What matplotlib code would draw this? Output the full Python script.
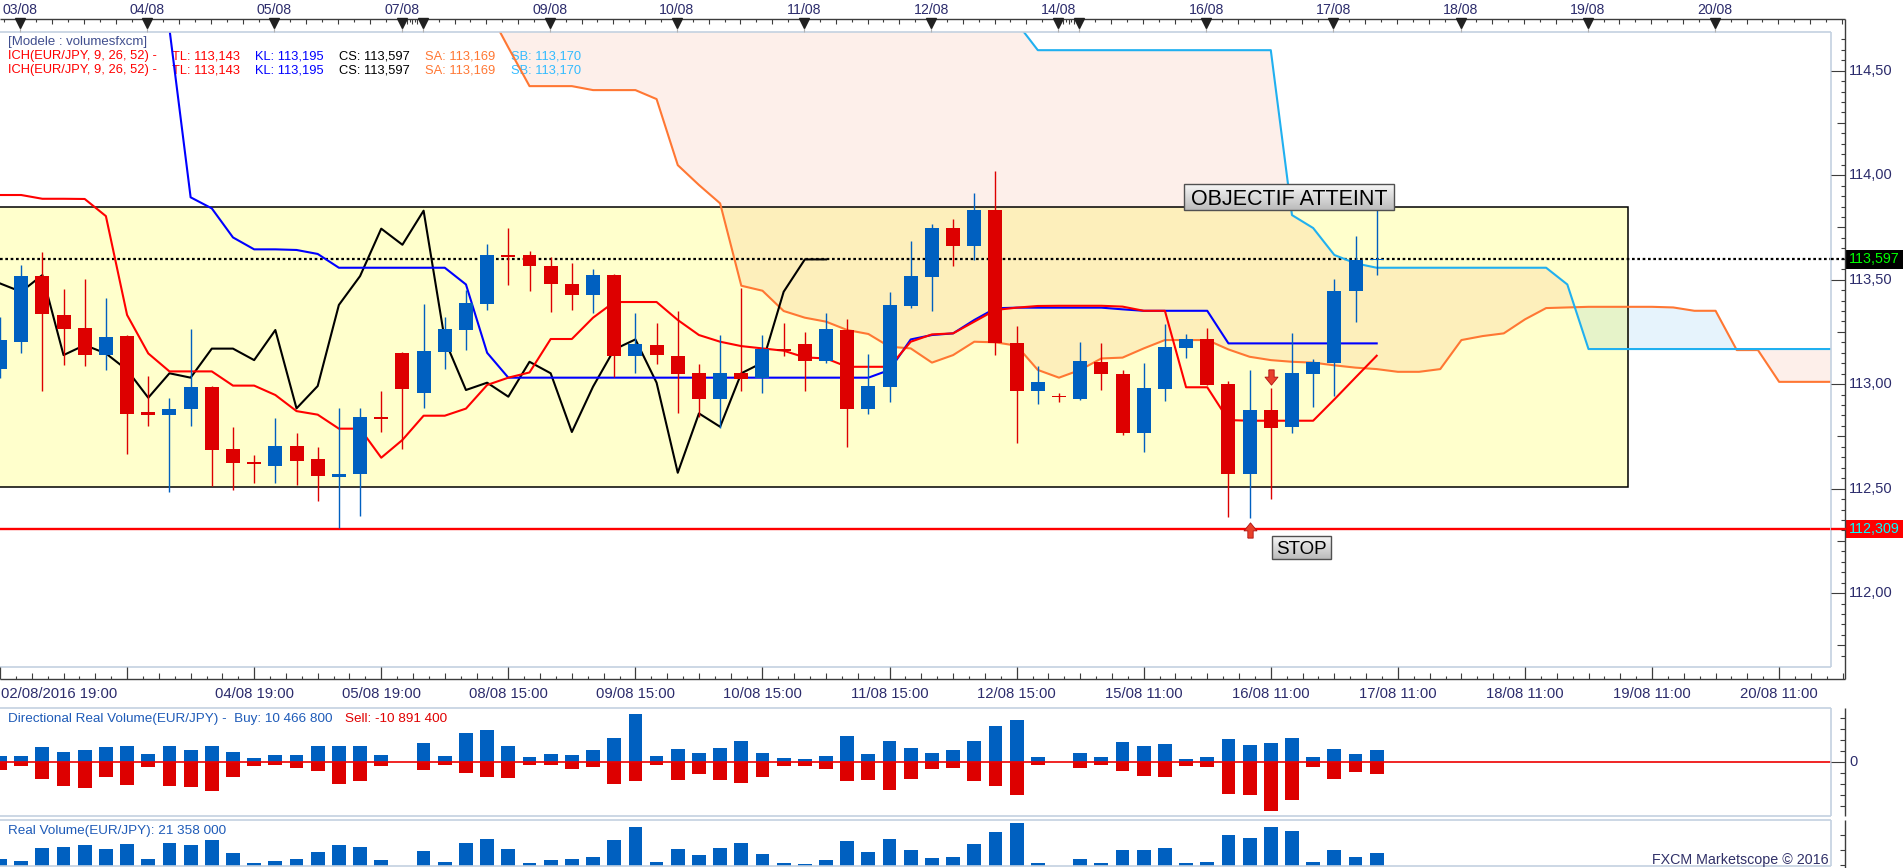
import numpy as np
import matplotlib
matplotlib.use("Agg")
import matplotlib.pyplot as plt
from matplotlib.patches import Rectangle
from matplotlib.path import Path
from matplotlib.colors import LinearSegmentedColormap
import matplotlib.transforms as mtransforms

plt.rcParams['font.family'] = ['Liberation Sans', 'DejaVu Sans']
nan = float('nan')

# ---------------------------------------------------------------- data
# EUR/JPY H4 candles
opens = [113.071, 113.203, 113.517, 113.331, 113.268, 113.141, 113.230, 112.865, 112.854, 112.883,
         112.986, 112.690, 112.627, 112.610, 112.704, 112.642, 112.557, 112.568, 112.843, 113.149,
         112.959, 113.155, 113.261, 113.385, 113.618, 113.618, 113.565, 113.479, 113.428, 113.522,
         113.136, 113.187, 113.135, 113.053, 112.930, 113.053, 113.029, 113.166, 113.192, 113.112,
         113.259, 112.883, 112.988, 113.375, 113.514, 113.747, 113.662, 113.833, 113.197, 112.969,
         112.943, 112.930, 113.106, 113.048, 112.768, 112.978, 113.174, 113.216, 113.000, 112.572,
         112.876, 112.796, 113.050, 113.103, 113.447, 113.594]
highs = [113.323, 113.570, 113.632, 113.455, 113.503, 113.412, 113.235, 113.039, 112.934, 113.264,
         112.990, 112.795, 112.661, 112.840, 112.766, 112.699, 112.887, 112.887, 112.967, 113.154,
         113.383, 113.321, 113.450, 113.670, 113.747, 113.637, 113.608, 113.579, 113.551, 113.527,
         113.340, 113.292, 113.350, 113.096, 113.235, 113.461, 113.235, 113.294, 113.249, 113.340,
         113.312, 113.144, 113.441, 113.685, 113.766, 113.790, 113.914, 114.020, 113.278, 113.087,
         112.956, 113.203, 113.197, 113.068, 113.101, 113.288, 113.240, 113.268, 113.015, 113.068,
         112.981, 113.245, 113.120, 113.503, 113.709, 113.840]
lows = [113.028, 113.150, 112.969, 113.093, 113.088, 113.069, 112.664, 112.801, 112.482, 112.801,
        112.514, 112.495, 112.528, 112.528, 112.519, 112.442, 112.310, 112.371, 112.772, 112.688,
        112.887, 113.074, 113.165, 113.356, 113.476, 113.447, 113.347, 113.356, 113.342, 113.032,
        113.055, 113.098, 112.863, 112.844, 112.788, 112.969, 112.959, 113.136, 112.969, 113.103,
        112.701, 112.859, 112.916, 113.366, 113.351, 113.567, 113.595, 113.141, 112.720, 112.906,
        112.913, 112.922, 112.973, 112.755, 112.677, 112.921, 113.127, 112.997, 112.366, 112.361,
        112.452, 112.768, 112.892, 112.945, 113.299, 113.520]
closes = [113.211, 113.517, 113.334, 113.265, 113.141, 113.225, 112.859, 112.854, 112.881, 112.986,
          112.686, 112.624, 112.619, 112.704, 112.634, 112.562, 112.568, 112.843, 112.831, 112.975,
          113.158, 113.264, 113.388, 113.618, 113.610, 113.567, 113.481, 113.428, 113.522, 113.136,
          113.192, 113.141, 113.050, 112.930, 113.053, 113.026, 113.168, 113.158, 113.112, 113.264,
          112.883, 112.991, 113.379, 113.517, 113.747, 113.662, 113.833, 113.195, 112.969, 113.010,
          112.937, 113.111, 113.050, 112.768, 112.981, 113.178, 113.216, 112.997, 112.572, 112.876,
          112.792, 113.053, 113.106, 113.446, 113.594, 113.597]

# Ichimoku (9, 26, 52)
tenkan = [113.905, 113.905, 113.887, 113.887, 113.886, 113.804, 113.331, 113.147, 113.061, 113.061,
          113.061, 112.993, 112.993, 112.948, 112.871, 112.854, 112.787, 112.787, 112.648, 112.733,
          112.849, 112.849, 112.883, 112.996, 113.031, 113.056, 113.216, 113.216, 113.318, 113.393,
          113.393, 113.393, 113.307, 113.235, 113.203, 113.182, 113.171, 113.160, 113.128, 113.123,
          113.083, 113.083, 113.083, 113.203, 113.238, 113.243, 113.299, 113.355, 113.366, 113.374,
          113.375, 113.375, 113.375, 113.371, 113.351, 113.351, 112.985, 112.985, 112.828, 112.825,
          112.825, 112.825, 112.825, 112.927, 113.032, 113.136]
kijun = ([nan] * 8 +
         [114.700, 113.894, 113.841, 113.702, 113.645, 113.645, 113.642, 113.623, 113.557, 113.557,
          113.557, 113.557, 113.557, 113.557, 113.477, 113.150] +
         [113.031] * 18 +
         [113.068, 113.214, 113.235, 113.243, 113.307, 113.363, 113.366, 113.366, 113.366, 113.366,
          113.366, 113.358, 113.351, 113.351, 113.351, 113.351] +
         [113.195] * 8)
chikou = [113.482, 113.442, 113.522, 113.139, 113.187, 113.147, 113.068, 112.935, 113.052, 113.031,
          113.170, 113.170, 113.115, 113.259, 112.884, 112.991, 113.379, 113.517, 113.744, 113.667,
          113.830, 113.211, 112.972, 113.007, 112.940, 113.107, 113.052, 112.771, 112.988, 113.166,
          113.214, 113.007, 112.576, 112.860, 112.796, 113.052, 113.103, 113.442, 113.597, 113.597]
senkou_a = ([nan] * 23 +
            [114.800, 114.611, 114.426, 114.426, 114.426, 114.407, 114.407, 114.407, 114.364, 114.048,
             113.953, 113.865, 113.471, 113.447, 113.350, 113.318, 113.299, 113.259, 113.240, 113.179,
             113.171, 113.103, 113.139, 113.203, 113.200, 113.184, 113.068, 113.031, 113.068, 113.123,
             113.127, 113.171, 113.211, 113.211, 113.211, 113.166, 113.131, 113.115, 113.107, 113.103,
             113.090, 113.079, 113.072, 113.059, 113.059, 113.072, 113.211, 113.230, 113.243, 113.310,
             113.364, 113.367, 113.370, 113.370, 113.370, 113.370, 113.367, 113.351, 113.351, 113.163,
             113.163, 113.011, 113.011, 113.011, 113.011])
senkou_b = ([nan] * 48 + [114.730] + [114.598] * 12 +
            [113.809, 113.747, 113.618, 113.578] + [113.557] * 9 + [113.477] + [113.168] * 13)

# volumes (millions)
buy_volume = [5.7, 5.7, 13.8, 9.3, 11.1, 13.8, 14.7, 7.5, 14.7, 11.1,
              14.7, 9.3, 3.9, 6.6, 6.6, 14.7, 14.7, 14.7, 6.6, 0.0,
              17.4, 5.7, 26.4, 29.1, 14.7, 4.8, 7.5, 6.6, 11.1, 21.9,
              43.5, 5.7, 12.0, 8.4, 12.6, 18.9, 8.4, 3.6, 2.7, 5.4,
              23.4, 7.2, 18.9, 12.6, 8.4, 10.8, 18.9, 32.4, 37.8, 4.5,
              0.0, 8.4, 4.5, 18.0, 14.4, 16.2, 2.7, 4.5, 20.7, 15.3,
              17.1, 21.6, 4.5, 11.7, 7.2, 10.5]
sell_volume = [7.5, 3.9, 15.6, 21.9, 23.7, 13.8, 21.0, 4.8, 21.9, 22.8,
               26.4, 13.8, 3.9, 3.0, 5.7, 8.4, 20.1, 17.4, 3.9, 0.0,
               7.5, 3.0, 10.2, 13.8, 14.7, 3.0, 3.0, 6.6, 4.8, 20.1,
               17.4, 3.0, 16.5, 11.1, 16.2, 18.9, 13.5, 3.6, 3.6, 6.3,
               17.1, 16.2, 25.2, 15.3, 6.3, 5.4, 17.1, 21.6, 29.7, 2.7,
               0.0, 5.4, 2.7, 8.1, 12.6, 13.5, 3.6, 4.5, 28.8, 29.7,
               44.1, 34.2, 4.5, 15.3, 9.0, 10.9]
real_volume = [11.2, 8.0, 28.8, 30.4, 33.6, 27.2, 35.2, 11.2, 36.8, 33.6,
               41.6, 20.8, 4.8, 8.0, 11.2, 22.4, 33.6, 30.4, 9.6, 0.0,
               24.0, 6.4, 36.8, 43.2, 27.2, 4.8, 9.6, 11.2, 14.4, 41.6,
               62.4, 6.4, 27.2, 17.6, 28.3, 36.3, 18.7, 4.3, 2.7, 9.1,
               39.5, 21.9, 42.7, 25.1, 12.3, 13.9, 34.7, 53.9, 68.3, 4.3,
               0.0, 10.7, 4.3, 25.1, 25.1, 28.3, 4.3, 5.9, 49.1, 44.3,
               61.9, 55.5, 5.9, 25.1, 13.9, 21.4]

target_zone = [112.508, 113.846]
target_zone_end = 76.86
current_price = 113.597
stop_price = 112.309
signal_down = (60, 113.036)
signal_up = (59, 112.302)

top_day_pos = [1, 7, 13, 19, 20, 26, 32, 38, 44, 50, 51, 57, 63, 69, 75, 81]
top_day_labels = ['03/08', '04/08', '05/08', '07/08', '', '09/08', '10/08', '11/08', '12/08',
                  '14/08', '', '16/08', '17/08', '18/08', '19/08', '20/08']
bottom_label_pos = [12, 18, 24, 30, 36, 42, 48, 54, 60, 66, 72, 78, 84]
bottom_labels = ['04/08 19:00', '05/08 19:00', '08/08 15:00', '09/08 15:00', '10/08 15:00',
                 '11/08 15:00', '12/08 15:00', '15/08 11:00', '16/08 11:00', '17/08 11:00',
                 '18/08 11:00', '19/08 11:00', '20/08 11:00']
first_label = '02/08/2016 19:00'

# ---------------------------------------------------------------- layout
W, H, DPI = 1903, 868, 100
S = 21.18
PLOT_R, AXIS_X = 1831, 1845
TOP_AX_Y = 19.3
PR_TOP, PR_BOT = 32.0, 666.7
BOT_AX_Y = 678.7
P_TOP, P_BOT = 114.685, 111.648
DV_TOP, DV_BOT = 708.3, 816.0
RV_TOP, RV_BOT = 820.0, 868.0

BLUE, RED = '#0060c0', '#dd0000'
C_TL, C_KL, C_CS, C_SA, C_SB = '#ff0000', '#0000ff', '#000000', '#ff7733', '#20b0f0'
PINK, LBLUE = '#fdefea', '#e6f3fc'
PINK_Y, LBLUE_Y = '#fdefbb', '#e6f3c9'
CHROME, BORDER, TXT = '#3c3c3c', '#c3d1e0', '#2c2c6c'

fig = plt.figure(figsize=(W / DPI, H / DPI), dpi=DPI)
fig.patch.set_facecolor('white')


def fa(x0, y0, x1, y1):
    return fig.add_axes([x0 / W, 1 - y1 / H, (x1 - x0) / W, (y1 - y0) / H])


ax = fa(0, PR_TOP, PLOT_R, PR_BOT)
ax.axis('off')
dax = fa(0, DV_TOP, PLOT_R, DV_BOT)
dax.axis('off')
rax = fa(0, RV_TOP, PLOT_R, RV_BOT)
rax.axis('off')
ov = fig.add_axes([0, 0, 1, 1])
ov.axis('off')
ov.set_autoscale_on(False)
ov.set_xlim(0, W)
ov.set_ylim(H, 0)
ax.set_xlim(0, PLOT_R / S)
ax.set_ylim(P_BOT, P_TOP)

bt = mtransforms.blended_transform_factory(ax.transData, ov.transData)
bp = mtransforms.blended_transform_factory(ov.transData, ax.transData)

idx = np.arange(len(closes))
xs = np.arange(len(senkou_a))
sa = np.array(senkou_a, float)
sb = np.array(senkou_b, float)
sb_fill = np.where(np.isnan(sb), P_TOP + 1.0, sb)
valid = ~np.isnan(sa)

# ---------------------------------------------------------------- cloud + box
zbox = Rectangle((-2, target_zone[0]), target_zone_end + 2, target_zone[1] - target_zone[0],
                 fc='#ffffcc', ec='none', zorder=1.5)
ax.add_patch(zbox)


def cloud(c_bear, c_bull, z, clip=None):
    with np.errstate(invalid='ignore'):
        w1 = valid & (sb_fill >= sa)
        w2 = valid & (sa > sb_fill)
    f1 = ax.fill_between(xs, sa, sb_fill, where=w1, interpolate=True, color=c_bear, lw=0, zorder=z)
    f2 = ax.fill_between(xs, sa, sb_fill, where=w2, interpolate=True, color=c_bull, lw=0, zorder=z)
    if clip is not None:
        f1.set_clip_path(clip)
        f2.set_clip_path(clip)


cloud(PINK, LBLUE, 1)
cloud(PINK_Y, LBLUE_Y, 2, clip=zbox)
ax.add_patch(Rectangle((-2, target_zone[0]), target_zone_end + 2, target_zone[1] - target_zone[0],
                       fill=False, ec='black', lw=1.1, zorder=2.6))

# legend text (under lines)
ax.text(8, 45, '[Modele : volumesfxcm]', transform=ov.transData, fontsize=9.5, color='#404e8e', zorder=2.7)
for yb in (59.3, 73.3):
    for xp, s, c in [(8, 'ICH(EUR/JPY, 9, 26, 52) -', C_TL), (172, 'TL: 113,143', C_TL),
                     (255, 'KL: 113,195', C_KL), (339, 'CS: 113,597', C_CS),
                     (425, 'SA: 113,169', C_SA), (511, 'SB: 113,170', '#33bbff')]:
        ax.text(xp, yb, s, transform=ov.transData, fontsize=9.3, color=c, zorder=2.7)

# ---------------------------------------------------------------- lines
ax.axhline(current_price, color='black', lw=1.6, ls=(0, (1.2, 1.2)), zorder=2.8)
ax.plot(xs, sa, color=C_SA, lw=1.5, zorder=3)
ax.plot(xs, sb, color=C_SB, lw=1.5, zorder=3)
ax.plot(np.arange(len(chikou)), chikou, color=C_CS, lw=1.5, zorder=3.1)
ax.plot(idx, kijun, color=C_KL, lw=1.5, zorder=3.2)
ax.plot(idx, tenkan, color=C_TL, lw=1.5, zorder=3.3)
ax.axhline(stop_price, color='#ff0000', lw=1.7, zorder=3.5)

# ---------------------------------------------------------------- candles
o, h, l, c = (np.array(v, float) for v in (opens, highs, lows, closes))
ccol = np.where(c >= o, BLUE, RED)
ax.vlines(idx, l, h, colors=ccol, lw=1.0, zorder=4)
ax.bar(idx, np.maximum(np.abs(c - o), 0.007), bottom=np.minimum(o, c), width=0.66,
       color=ccol, lw=0, zorder=5)

down_arrow = Path([(-0.35, 1.0), (0.35, 1.0), (0.35, 0.05), (0.85, 0.05), (0.0, -1.0),
                   (-0.85, 0.05), (-0.35, 0.05), (-0.35, 1.0)])
up_arrow = Path([(x, -y) for x, y in down_arrow.vertices])
ax.plot([signal_down[0]], [signal_down[1]], marker=down_arrow, ms=11, color='#e8402a',
        mec='#b01010', mew=0.6, ls='none', zorder=6)
ax.plot([signal_up[0]], [signal_up[1]], marker=up_arrow, ms=11, color='#e8402a',
        mec='#b01010', mew=0.6, ls='none', zorder=6)

grad = LinearSegmentedColormap.from_list('g', ['#f7f7f7', '#bbbbbb'])


def label_box(x0, x1, y0, y1, text, fs):
    ax.imshow(np.linspace(0, 1, 64).reshape(-1, 1), extent=[x0, x1, y0, y1], cmap=grad,
              aspect='auto', origin='upper', zorder=6, interpolation='bilinear')
    ax.add_patch(Rectangle((x0, y0), x1 - x0, y1 - y0, fill=False, ec='#505050', lw=1.0, zorder=6.5))
    ax.text((x0 + x1) / 2, (y0 + y1) / 2, text, ha='center', va='center_baseline', fontsize=fs,
            color='black', zorder=7)


label_box(55.90, 65.82, 113.833, 113.957, 'OBJECTIF ATTEINT', 15.5)
label_box(60.06, 62.84, 112.163, 112.273, 'STOP', 13.5)
ax.set_xlim(0, PLOT_R / S)
ax.set_ylim(P_BOT, P_TOP)

# ---------------------------------------------------------------- volume panels
dax.set_xlim(0, PLOT_R / S)
dax.set_ylim(-48.6, 48.3)
dax.bar(idx, buy_volume, width=0.65, color=BLUE, lw=0)
dax.bar(idx, -np.array(sell_volume), width=0.65, color=RED, lw=0)
dax.axhline(0, color='#ee0000', lw=1.2, zorder=3)
rax.set_xlim(0, PLOT_R / S)
rax.set_ylim(-3.2, 73.6)
rax.bar(idx, real_volume, width=0.65, color=BLUE, lw=0)

ov.text(8, 722, 'Directional Real Volume(EUR/JPY) -  Buy: 10 466 800', fontsize=9.7, color='#1e5bb8',
        va='baseline')
ov.text(344.6, 722, 'Sell: -10 891 400', fontsize=9.7, color='#e00000', va='baseline')
ov.text(8, 834, 'Real Volume(EUR/JPY): 21 358 000', fontsize=9.7, color='#1e5bb8', va='baseline')
ov.text(1829, 860, 'FXCM Marketscope \u00a9 2016', fontsize=10.3, color='#303068', ha='right', va='center')

# ---------------------------------------------------------------- chrome
for t, b in [(PR_TOP, PR_BOT), (DV_TOP, DV_BOT), (RV_TOP, 866.0)]:
    ov.hlines([t, b], 0, PLOT_R, color=BORDER, lw=1.2)
    ov.vlines(PLOT_R, t, b, color=BORDER, lw=1.2)

# top time axis
ov.hlines(TOP_AX_Y, 0, AXIS_X, color=CHROME, lw=1.0)
dp = np.array(top_day_pos, float) - 0.04
xmax_units = AXIS_X / S
tick_list = []
for a, b in zip(dp[:-1], dp[1:]):
    for k in range(1, 8):
        tick_list.append((a + (b - a) * k / 8, k % 2 == 0))
for k in range(1, 8):
    if dp[0] - 0.75 * k >= 0:
        tick_list.append((dp[0] - 0.75 * k, k % 2 == 0))
k = 1
while dp[-1] + 0.75 * k <= xmax_units:
    tick_list.append((dp[-1] + 0.75 * k, k % 2 == 0))
    k += 1
for x, tall in tick_list:
    ov.vlines(x, TOP_AX_Y, TOP_AX_Y + (5 if tall else 3), transform=bt, color=CHROME, lw=0.8)
ov.vlines(dp, 27, PR_TOP, transform=bt, color='#b0b0b0', lw=0.8)
ov.plot(dp, [23.2] * len(dp), marker='v', ms=6.5, color='#202020', ls='none', transform=bt)
for x, s in zip(dp, top_day_labels):
    if s:
        ov.text(x, 10.5, s, transform=bt, ha='center', va='center', fontsize=10.2, color=TXT)

# bottom time axis
ov.hlines(BOT_AX_Y, 0, AXIS_X, color=CHROME, lw=1.0)
for base in range(0, 90, 6):
    if base <= xmax_units:
        ov.vlines(base, PR_BOT, BOT_AX_Y, transform=bt, color=CHROME, lw=0.9)
    for k in range(1, 8):
        x = base + 0.75 * k
        if x <= xmax_units:
            ov.vlines(x, BOT_AX_Y - (6 if k % 2 == 0 else 3), BOT_AX_Y, transform=bt, color=CHROME, lw=0.8)
ov.text(1, 694, first_label, ha='left', va='center', fontsize=10.7, color=TXT)
for x, s in zip(bottom_label_pos, bottom_labels):
    ov.text(x, 694, s, transform=bt, ha='center', va='center', fontsize=10.7, color=TXT)

# price scale
ov.vlines(AXIS_X, TOP_AX_Y, BOT_AX_Y, color=CHROME, lw=1.0)
for p in np.round(np.arange(111.70, P_TOP, 0.05), 2):
    if abs(p * 2 - round(p * 2)) < 1e-6:
        x0 = PLOT_R
        ov.text(1849, p, f"{p:.2f}".replace('.', ','), transform=bp, ha='left', va='center',
                fontsize=10.5, color=TXT)
    elif abs(p * 4 - round(p * 4)) < 1e-6:
        x0 = 1837
    else:
        x0 = 1841
    ov.hlines(p, x0, AXIS_X, transform=bp, color=CHROME, lw=0.8)

ov.hlines(current_price, PLOT_R, 1846, transform=bp, color='black', lw=1.6, linestyles=(0, (1.2, 1.2)))
ov.hlines(stop_price, PLOT_R, 1846, transform=bp, color='#ff0000', lw=1.7)
ov.add_patch(Rectangle((1846, current_price - 0.045), 57, 0.09, transform=bp, fc='black', ec='none'))
ov.text(1848.5, current_price, f"{current_price:.3f}".replace('.', ','), transform=bp, ha='left',
        va='center', fontsize=10.3, color='#00ff00')
ov.add_patch(Rectangle((1845.5, stop_price - 0.043), 58, 0.086, transform=bp, fc='#ff0000', ec='none'))
ov.text(1848.5, stop_price, f"{stop_price:.3f}".replace('.', ','), transform=bp, ha='left',
        va='center', fontsize=10.3, color='#00ffff')

# volume scales
zero_y = DV_TOP + (DV_BOT - DV_TOP) * 48.3 / (48.3 + 48.6)
ov.vlines(AXIS_X, DV_TOP, DV_BOT, color=CHROME, lw=1.0)
for kk in range(-4, 5):
    yy = zero_y + kk * 11
    ov.hlines(yy, PLOT_R if kk == 0 else 1840, AXIS_X, color=CHROME, lw=0.8)
ov.text(1849, zero_y, '0', ha='left', va='center', fontsize=10.5, color=TXT)
ov.vlines(AXIS_X, RV_TOP, RV_BOT, color=CHROME, lw=1.0)
for yy in (835, 850, 865):
    ov.hlines(yy, 1840, AXIS_X, color=CHROME, lw=0.8)

ov.set_xlim(0, W)
ov.set_ylim(H, 0)
fig.savefig('out.png', dpi=DPI, facecolor='white')
